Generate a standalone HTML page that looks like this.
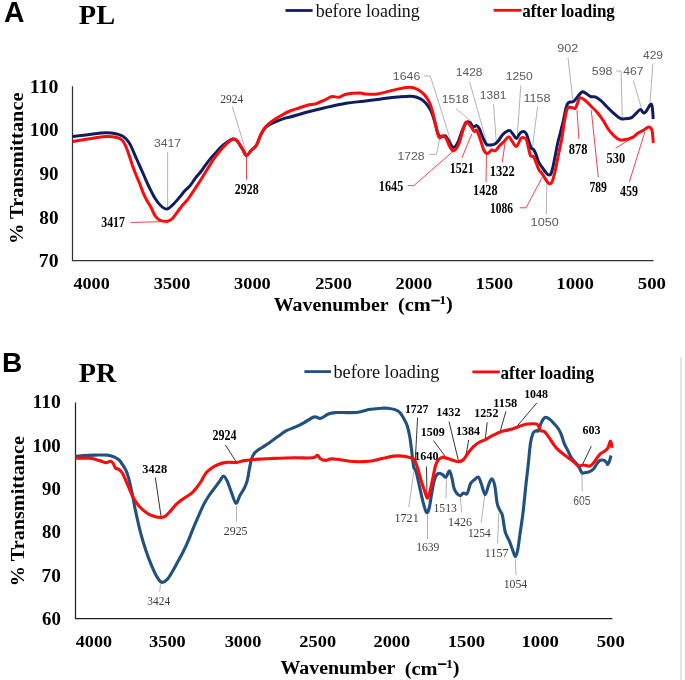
<!DOCTYPE html><html><head><meta charset="utf-8"><style>html,body{margin:0;padding:0;background:#fff;overflow:hidden;}svg{display:block;filter:blur(0.3px);}</style></head><body>
<svg width="685" height="680" viewBox="0 0 685 680">
<rect width="685" height="680" fill="#fff"/>
<text x="3.99" y="22.40" font-family='"Liberation Sans", sans-serif' font-weight="bold" font-size="29.80" fill="#000" textLength="20.45" lengthAdjust="spacingAndGlyphs">A</text>
<text x="78.81" y="23.70" font-family='"Liberation Serif", serif' font-weight="bold" font-size="28.10" fill="#000" textLength="36.28" lengthAdjust="spacingAndGlyphs">PL</text>
<polyline points="285.50,10.50 312.60,10.50" fill="none" stroke="#101c60" stroke-width="2.8"/>
<text x="315.70" y="16.60" font-family='"Liberation Serif", serif' font-weight="normal" font-size="18.00" fill="#111" textLength="104.14" lengthAdjust="spacingAndGlyphs">before loading</text>
<polyline points="493.60,10.30 521.60,10.30" fill="none" stroke="#f80c0c" stroke-width="2.8"/>
<text x="522.15" y="16.60" font-family='"Liberation Serif", serif' font-weight="bold" font-size="19.00" fill="#000" textLength="92.71" lengthAdjust="spacingAndGlyphs">after loading</text>
<polyline points="72.50,86.30 72.50,260.50 653.60,260.50" fill="none" stroke="#333" stroke-width="1.25"/>
<text x="29.87" y="92.87" font-family='"Liberation Serif", serif' font-weight="bold" font-size="17.93" fill="#000" textLength="28.66" lengthAdjust="spacingAndGlyphs">110</text>
<text x="29.87" y="136.42" font-family='"Liberation Serif", serif' font-weight="bold" font-size="17.93" fill="#000" textLength="28.66" lengthAdjust="spacingAndGlyphs">100</text>
<text x="39.48" y="179.97" font-family='"Liberation Serif", serif' font-weight="bold" font-size="17.93" fill="#000" textLength="19.05" lengthAdjust="spacingAndGlyphs">90</text>
<text x="39.36" y="223.52" font-family='"Liberation Serif", serif' font-weight="bold" font-size="17.93" fill="#000" textLength="19.17" lengthAdjust="spacingAndGlyphs">80</text>
<text x="38.88" y="267.07" font-family='"Liberation Serif", serif' font-weight="bold" font-size="17.93" fill="#000" textLength="19.67" lengthAdjust="spacingAndGlyphs">70</text>
<text x="73.50" y="288.63" font-family='"Liberation Serif", serif' font-weight="bold" font-size="17.49" fill="#000" textLength="36.24" lengthAdjust="spacingAndGlyphs">4000</text>
<text x="153.76" y="288.63" font-family='"Liberation Serif", serif' font-weight="bold" font-size="17.49" fill="#000" textLength="36.69" lengthAdjust="spacingAndGlyphs">3500</text>
<text x="234.06" y="288.63" font-family='"Liberation Serif", serif' font-weight="bold" font-size="17.49" fill="#000" textLength="36.69" lengthAdjust="spacingAndGlyphs">3000</text>
<text x="315.18" y="288.63" font-family='"Liberation Serif", serif' font-weight="bold" font-size="17.49" fill="#000" textLength="36.77" lengthAdjust="spacingAndGlyphs">2500</text>
<text x="395.48" y="288.63" font-family='"Liberation Serif", serif' font-weight="bold" font-size="17.49" fill="#000" textLength="36.77" lengthAdjust="spacingAndGlyphs">2000</text>
<text x="475.55" y="288.63" font-family='"Liberation Serif", serif' font-weight="bold" font-size="17.49" fill="#000" textLength="37.52" lengthAdjust="spacingAndGlyphs">1500</text>
<text x="556.35" y="288.63" font-family='"Liberation Serif", serif' font-weight="bold" font-size="17.49" fill="#000" textLength="37.52" lengthAdjust="spacingAndGlyphs">1000</text>
<text x="637.80" y="288.63" font-family='"Liberation Serif", serif' font-weight="bold" font-size="17.49" fill="#000" textLength="28.17" lengthAdjust="spacingAndGlyphs">500</text>
<text x="273.82" y="310.60" font-family='"Liberation Serif", serif' font-weight="bold" font-size="19.80" fill="#000" textLength="114.80" lengthAdjust="spacingAndGlyphs">Wavenumber</text>
<text x="398.00" y="311.00" font-family='"Liberation Serif", serif' font-weight="bold" font-size="19.80" fill="#000" textLength="32.85" lengthAdjust="spacingAndGlyphs">(cm</text>
<rect x="431.30" y="299.70" width="8.4" height="1.7" fill="#000"/>
<text x="439.39" y="304.40" font-family='"Liberation Serif", serif' font-weight="bold" font-size="13.18" fill="#000" textLength="6.93" lengthAdjust="spacingAndGlyphs">1</text>
<text x="446.05" y="310.49" font-family='"Liberation Serif", serif' font-weight="bold" font-size="18.86" fill="#000" textLength="6.74" lengthAdjust="spacingAndGlyphs">)</text>
<g transform="rotate(-90)"><text x="-244.07" y="23.10" font-family='"Liberation Serif", serif' font-weight="bold" font-size="19.80" fill="#000" textLength="151.59" lengthAdjust="spacingAndGlyphs">% Transmittance</text></g>
<polyline points="167.60,151.70 167.60,207.30" fill="none" stroke="#a0a0a0" stroke-width="0.8"/>
<polyline points="232.30,106.50 246.40,153.00" fill="none" stroke="#a0a0a0" stroke-width="0.8"/>
<polyline points="424.00,75.90 430.30,76.00 451.40,142.90" fill="none" stroke="#a0a0a0" stroke-width="0.8"/>
<polyline points="455.80,108.50 471.70,121.70" fill="none" stroke="#a0a0a0" stroke-width="0.8"/>
<polyline points="469.70,82.00 486.50,142.00" fill="none" stroke="#a0a0a0" stroke-width="0.8"/>
<polyline points="493.50,104.00 496.20,141.00" fill="none" stroke="#a0a0a0" stroke-width="0.8"/>
<polyline points="520.80,85.60 517.30,135.80" fill="none" stroke="#a0a0a0" stroke-width="0.8"/>
<polyline points="537.60,106.70 532.30,148.20" fill="none" stroke="#a0a0a0" stroke-width="0.8"/>
<polyline points="429.40,154.40 436.40,154.40 440.00,137.60" fill="none" stroke="#a0a0a0" stroke-width="0.8"/>
<polyline points="546.30,214.20 547.00,177.30" fill="none" stroke="#a0a0a0" stroke-width="0.8"/>
<polyline points="568.00,57.70 572.80,99.80" fill="none" stroke="#a0a0a0" stroke-width="0.8"/>
<polyline points="616.20,71.00 621.00,71.00 622.30,118.00" fill="none" stroke="#a0a0a0" stroke-width="0.8"/>
<polyline points="633.40,80.70 642.00,110.30" fill="none" stroke="#a0a0a0" stroke-width="0.8"/>
<polyline points="652.90,63.50 650.00,102.70" fill="none" stroke="#a0a0a0" stroke-width="0.8"/>
<polyline points="130.80,222.50 166.00,221.50" fill="none" stroke="#e8303c" stroke-width="0.9"/>
<polyline points="246.50,155.00 246.50,179.60" fill="none" stroke="#e8303c" stroke-width="0.9"/>
<polyline points="407.70,185.60 413.80,185.60 453.70,150.80" fill="none" stroke="#e8303c" stroke-width="0.9"/>
<polyline points="471.70,134.00 462.00,157.90" fill="none" stroke="#e8303c" stroke-width="0.9"/>
<polyline points="486.50,153.00 486.00,182.00" fill="none" stroke="#e8303c" stroke-width="0.9"/>
<polyline points="502.30,162.30 505.00,142.90" fill="none" stroke="#e8303c" stroke-width="0.9"/>
<polyline points="519.70,207.80 526.10,207.80 542.20,177.30" fill="none" stroke="#e8303c" stroke-width="0.9"/>
<polyline points="577.00,110.30 578.90,139.00" fill="none" stroke="#e8303c" stroke-width="0.9"/>
<polyline points="591.30,110.30 598.30,177.40" fill="none" stroke="#e8303c" stroke-width="0.9"/>
<polyline points="615.70,148.20 633.00,137.50" fill="none" stroke="#e8303c" stroke-width="0.9"/>
<polyline points="629.30,182.00 644.90,131.80" fill="none" stroke="#e8303c" stroke-width="0.9"/>
<path d="M72.70,136.50 C75.18,136.20 82.05,135.33 87.60,134.70 C93.15,134.07 101.03,132.80 106.00,132.70 C110.97,132.60 114.53,133.47 117.40,134.10 C120.27,134.73 121.43,135.32 123.20,136.50 C124.97,137.68 126.62,139.43 128.00,141.20 C129.38,142.97 130.33,144.75 131.50,147.10 C132.67,149.45 133.63,152.17 135.00,155.30 C136.37,158.43 138.13,162.37 139.70,165.90 C141.27,169.43 142.83,172.98 144.40,176.50 C145.97,180.02 147.33,183.37 149.10,187.00 C150.87,190.63 153.08,195.22 155.00,198.30 C156.92,201.38 158.63,203.70 160.60,205.50 C162.57,207.30 164.75,209.23 166.80,209.10 C168.85,208.97 170.70,206.77 172.90,204.70 C175.10,202.63 177.97,199.05 180.00,196.70 C182.03,194.35 183.38,192.48 185.10,190.60 C186.82,188.72 188.58,187.47 190.30,185.40 C192.02,183.33 193.68,180.43 195.40,178.20 C197.12,175.97 198.88,174.23 200.60,172.00 C202.32,169.77 203.98,167.12 205.70,164.80 C207.42,162.48 209.18,160.15 210.90,158.10 C212.62,156.05 214.28,154.38 216.00,152.50 C217.72,150.62 219.48,148.43 221.20,146.80 C222.92,145.17 224.40,143.98 226.30,142.70 C228.20,141.42 230.82,139.42 232.60,139.10 C234.38,138.78 235.38,139.18 237.00,140.80 C238.62,142.42 240.73,146.35 242.30,148.80 C243.87,151.25 244.93,155.22 246.40,155.50 C247.87,155.78 249.43,152.20 251.10,150.50 C252.77,148.80 254.78,147.93 256.40,145.30 C258.02,142.67 259.32,137.65 260.80,134.70 C262.28,131.75 263.38,129.52 265.30,127.60 C267.22,125.68 269.37,124.67 272.30,123.20 C275.23,121.73 279.95,119.83 282.90,118.80 C285.85,117.77 285.90,118.13 290.00,117.00 C294.10,115.87 301.67,113.55 307.50,112.00 C313.33,110.45 318.58,109.15 325.00,107.70 C331.42,106.25 339.57,104.38 346.00,103.30 C352.43,102.22 357.75,101.93 363.60,101.20 C369.45,100.47 375.43,99.60 381.10,98.90 C386.77,98.20 392.50,97.45 397.60,97.00 C402.70,96.55 407.87,95.90 411.70,96.20 C415.53,96.50 418.23,97.63 420.60,98.80 C422.97,99.97 424.15,101.15 425.90,103.20 C427.65,105.25 429.63,108.02 431.10,111.10 C432.57,114.18 433.52,117.87 434.70,121.70 C435.88,125.53 437.03,131.60 438.20,134.10 C439.37,136.60 440.52,136.42 441.70,136.70 C442.88,136.98 444.12,135.07 445.30,135.80 C446.48,136.53 447.48,139.18 448.80,141.10 C450.12,143.02 451.73,147.00 453.20,147.30 C454.67,147.60 455.98,145.98 457.60,142.90 C459.22,139.82 461.33,132.27 462.90,128.80 C464.47,125.33 465.72,123.05 467.00,122.10 C468.28,121.15 469.57,122.28 470.60,123.10 C471.63,123.92 472.17,126.58 473.20,127.00 C474.23,127.42 475.77,125.30 476.80,125.60 C477.83,125.90 478.38,126.80 479.40,128.80 C480.42,130.80 481.72,135.02 482.90,137.60 C484.08,140.18 485.17,143.07 486.50,144.30 C487.83,145.53 489.43,145.08 490.90,145.00 C492.37,144.92 493.98,144.60 495.30,143.80 C496.62,143.00 497.48,141.82 498.80,140.20 C500.12,138.58 501.43,135.72 503.20,134.10 C504.97,132.48 507.78,130.50 509.40,130.50 C511.02,130.50 511.73,132.77 512.90,134.10 C514.07,135.43 515.22,138.65 516.40,138.50 C517.58,138.35 518.82,134.35 520.00,133.20 C521.18,132.05 522.42,131.45 523.50,131.60 C524.58,131.75 525.62,132.50 526.50,134.10 C527.38,135.70 528.02,138.85 528.80,141.20 C529.58,143.55 530.42,146.83 531.20,148.20 C531.98,149.57 532.72,148.42 533.50,149.40 C534.28,150.38 535.02,151.93 535.90,154.10 C536.78,156.27 537.72,160.15 538.80,162.40 C539.88,164.65 541.32,166.03 542.40,167.60 C543.48,169.17 544.33,170.62 545.30,171.80 C546.27,172.98 547.28,174.32 548.20,174.70 C549.12,175.08 550.02,175.37 550.80,174.10 C551.58,172.83 552.15,170.23 552.90,167.10 C553.65,163.97 554.52,159.23 555.30,155.30 C556.08,151.37 556.72,147.42 557.60,143.50 C558.48,139.58 559.62,135.72 560.60,131.80 C561.58,127.88 562.60,123.97 563.50,120.00 C564.40,116.03 565.18,110.88 566.00,108.00 C566.82,105.12 567.20,103.75 568.40,102.70 C569.60,101.65 571.93,102.35 573.20,101.70 C574.47,101.05 574.57,100.40 576.00,98.80 C577.43,97.20 580.20,93.05 581.80,92.10 C583.40,91.15 584.17,92.37 585.60,93.10 C587.03,93.83 588.80,95.87 590.40,96.50 C592.00,97.13 593.45,96.20 595.20,96.90 C596.95,97.60 599.00,99.10 600.90,100.70 C602.80,102.30 604.68,104.58 606.60,106.50 C608.52,108.42 610.48,110.45 612.40,112.20 C614.32,113.95 616.52,115.88 618.10,117.00 C619.68,118.12 620.30,118.65 621.90,118.90 C623.50,119.15 626.02,118.75 627.70,118.50 C629.38,118.25 630.68,118.18 632.00,117.40 C633.32,116.62 634.20,115.10 635.60,113.80 C637.00,112.50 639.08,109.75 640.40,109.60 C641.72,109.45 642.53,112.63 643.50,112.90 C644.47,113.17 645.02,112.63 646.20,111.20 C647.38,109.77 649.58,104.92 650.60,104.30 C651.62,103.68 651.87,105.05 652.30,107.50 C652.73,109.95 653.05,117.08 653.20,119.00" fill="none" stroke="#101c60" stroke-width="3.0" stroke-linejoin="round" stroke-linecap="butt"/>
<path d="M72.70,141.40 C75.18,141.02 82.17,139.92 87.60,139.10 C93.03,138.28 100.58,136.80 105.30,136.50 C110.02,136.20 113.12,136.72 115.90,137.30 C118.68,137.88 120.38,138.57 122.00,140.00 C123.62,141.43 124.42,143.35 125.60,145.90 C126.78,148.45 127.93,151.97 129.10,155.30 C130.27,158.63 131.42,162.57 132.60,165.90 C133.78,169.23 135.02,172.37 136.20,175.30 C137.38,178.23 138.53,180.57 139.70,183.50 C140.87,186.43 142.05,190.15 143.20,192.90 C144.35,195.65 145.28,197.57 146.60,200.00 C147.92,202.43 149.65,204.82 151.10,207.50 C152.55,210.18 153.72,213.93 155.30,216.10 C156.88,218.27 158.68,219.62 160.60,220.50 C162.52,221.38 165.33,221.40 166.80,221.40 C168.27,221.40 168.38,221.08 169.40,220.50 C170.42,219.92 171.13,219.90 172.90,217.90 C174.67,215.90 178.30,210.73 180.00,208.50 C181.70,206.27 181.73,206.12 183.10,204.50 C184.47,202.88 186.48,201.03 188.20,198.80 C189.92,196.57 191.68,193.67 193.40,191.10 C195.12,188.53 196.78,186.07 198.50,183.40 C200.22,180.73 201.98,177.85 203.70,175.10 C205.42,172.35 207.08,169.63 208.80,166.90 C210.52,164.17 212.28,161.18 214.00,158.70 C215.72,156.22 217.40,154.07 219.10,152.00 C220.80,149.93 222.48,148.10 224.20,146.30 C225.92,144.50 227.85,142.40 229.40,141.20 C230.95,140.00 232.23,139.17 233.50,139.10 C234.77,139.03 235.53,139.18 237.00,140.80 C238.47,142.42 240.73,146.35 242.30,148.80 C243.87,151.25 244.93,155.22 246.40,155.50 C247.87,155.78 249.43,152.20 251.10,150.50 C252.77,148.80 254.78,147.93 256.40,145.30 C258.02,142.67 259.32,137.72 260.80,134.70 C262.28,131.68 263.38,129.48 265.30,127.20 C267.22,124.92 269.37,123.12 272.30,121.00 C275.23,118.88 279.95,116.17 282.90,114.50 C285.85,112.83 287.32,112.08 290.00,111.00 C292.68,109.92 296.08,108.97 299.00,108.00 C301.92,107.03 304.62,105.93 307.50,105.20 C310.38,104.47 313.38,104.50 316.30,103.60 C319.22,102.70 322.38,100.97 325.00,99.80 C327.62,98.63 329.67,97.03 332.00,96.60 C334.33,96.17 336.67,97.60 339.00,97.20 C341.33,96.80 342.50,94.88 346.00,94.20 C349.50,93.52 356.78,93.13 360.00,93.10 C363.22,93.07 362.37,93.85 365.30,94.00 C368.23,94.15 373.80,94.43 377.60,94.00 C381.40,93.57 384.60,92.25 388.10,91.40 C391.60,90.55 394.95,89.58 398.60,88.90 C402.25,88.22 406.93,87.27 410.00,87.30 C413.07,87.33 414.65,87.92 417.00,89.10 C419.35,90.28 422.03,92.20 424.10,94.40 C426.17,96.60 427.93,99.22 429.40,102.30 C430.87,105.38 431.73,108.48 432.90,112.90 C434.07,117.32 435.37,124.68 436.40,128.80 C437.43,132.92 438.07,136.43 439.10,137.60 C440.13,138.77 441.43,135.65 442.60,135.80 C443.77,135.95 444.92,136.73 446.10,138.50 C447.28,140.27 448.43,144.35 449.70,146.40 C450.97,148.45 452.23,151.08 453.70,150.80 C455.17,150.52 456.97,148.08 458.50,144.70 C460.03,141.32 461.65,134.28 462.90,130.50 C464.15,126.72 464.72,122.73 466.00,122.00 C467.28,121.27 469.25,124.53 470.60,126.10 C471.95,127.67 473.07,130.67 474.10,131.40 C475.13,132.13 475.77,129.17 476.80,130.50 C477.83,131.83 479.13,136.15 480.30,139.40 C481.47,142.65 482.63,147.65 483.80,150.00 C484.97,152.35 485.98,153.50 487.30,153.50 C488.62,153.50 490.37,150.45 491.70,150.00 C493.03,149.55 493.97,151.55 495.30,150.80 C496.63,150.05 498.23,147.05 499.70,145.50 C501.17,143.95 502.63,142.97 504.10,141.50 C505.57,140.03 507.18,136.77 508.50,136.70 C509.82,136.63 510.68,139.48 512.00,141.10 C513.32,142.72 514.93,146.83 516.40,146.40 C517.87,145.97 519.62,139.97 520.80,138.50 C521.98,137.03 522.55,137.35 523.50,137.60 C524.45,137.85 525.62,138.03 526.50,140.00 C527.38,141.97 528.12,146.75 528.80,149.40 C529.48,152.05 529.82,154.72 530.60,155.90 C531.38,157.08 532.62,155.42 533.50,156.50 C534.38,157.58 535.02,160.25 535.90,162.40 C536.78,164.55 537.72,167.45 538.80,169.40 C539.88,171.35 541.32,172.53 542.40,174.10 C543.48,175.67 544.23,177.23 545.30,178.80 C546.37,180.37 547.72,182.90 548.80,183.50 C549.88,184.10 550.92,183.77 551.80,182.40 C552.68,181.03 553.32,178.25 554.10,175.30 C554.88,172.35 555.72,168.43 556.50,164.70 C557.28,160.97 557.92,157.22 558.80,152.90 C559.68,148.58 560.85,144.12 561.80,138.80 C562.75,133.48 563.57,126.07 564.50,121.00 C565.43,115.93 566.27,110.67 567.40,108.40 C568.53,106.13 570.02,107.40 571.30,107.40 C572.58,107.40 574.15,108.87 575.10,108.40 C576.05,107.93 576.20,106.35 577.00,104.60 C577.80,102.85 578.47,98.55 579.90,97.90 C581.33,97.25 583.70,99.27 585.60,100.70 C587.50,102.13 589.38,104.58 591.30,106.50 C593.22,108.42 595.18,109.97 597.10,112.20 C599.02,114.43 600.90,117.03 602.80,119.90 C604.70,122.77 606.58,126.70 608.50,129.40 C610.42,132.10 612.38,134.35 614.30,136.10 C616.22,137.85 618.10,139.33 620.00,139.90 C621.90,140.47 624.03,139.75 625.70,139.50 C627.37,139.25 628.65,138.85 630.00,138.40 C631.35,137.95 632.57,137.63 633.80,136.80 C635.03,135.97 635.92,134.43 637.40,133.40 C638.88,132.37 640.93,131.63 642.70,130.60 C644.47,129.57 646.62,127.60 648.00,127.20 C649.38,126.80 650.27,127.33 651.00,128.20 C651.73,129.07 652.02,129.93 652.40,132.40 C652.78,134.87 653.15,141.23 653.30,143.00" fill="none" stroke="#f80c0c" stroke-width="3.0" stroke-linejoin="round" stroke-linecap="butt"/>
<text x="153.94" y="146.59" font-family='"Liberation Sans", sans-serif' font-weight="normal" font-size="11.02" fill="#5a5a5a" textLength="26.97" lengthAdjust="spacingAndGlyphs">3417</text>
<text x="392.86" y="79.69" font-family='"Liberation Sans", sans-serif' font-weight="normal" font-size="11.02" fill="#5a5a5a" textLength="27.38" lengthAdjust="spacingAndGlyphs">1646</text>
<text x="441.67" y="103.49" font-family='"Liberation Sans", sans-serif' font-weight="normal" font-size="11.02" fill="#5a5a5a" textLength="27.05" lengthAdjust="spacingAndGlyphs">1518</text>
<text x="455.78" y="76.09" font-family='"Liberation Sans", sans-serif' font-weight="normal" font-size="11.02" fill="#5a5a5a" textLength="26.74" lengthAdjust="spacingAndGlyphs">1428</text>
<text x="479.89" y="99.09" font-family='"Liberation Sans", sans-serif' font-weight="normal" font-size="11.02" fill="#5a5a5a" textLength="26.59" lengthAdjust="spacingAndGlyphs">1381</text>
<text x="505.78" y="80.19" font-family='"Liberation Sans", sans-serif' font-weight="normal" font-size="11.02" fill="#5a5a5a" textLength="27.00" lengthAdjust="spacingAndGlyphs">1250</text>
<text x="523.47" y="101.69" font-family='"Liberation Sans", sans-serif' font-weight="normal" font-size="11.02" fill="#5a5a5a" textLength="27.05" lengthAdjust="spacingAndGlyphs">1158</text>
<text x="397.57" y="159.89" font-family='"Liberation Sans", sans-serif' font-weight="normal" font-size="11.02" fill="#5a5a5a" textLength="27.05" lengthAdjust="spacingAndGlyphs">1728</text>
<text x="530.64" y="226.09" font-family='"Liberation Sans", sans-serif' font-weight="normal" font-size="11.02" fill="#5a5a5a" textLength="28.05" lengthAdjust="spacingAndGlyphs">1050</text>
<text x="557.31" y="51.99" font-family='"Liberation Sans", sans-serif' font-weight="normal" font-size="11.02" fill="#5a5a5a" textLength="20.92" lengthAdjust="spacingAndGlyphs">902</text>
<text x="591.80" y="74.89" font-family='"Liberation Sans", sans-serif' font-weight="normal" font-size="11.02" fill="#5a5a5a" textLength="20.74" lengthAdjust="spacingAndGlyphs">598</text>
<text x="623.22" y="74.89" font-family='"Liberation Sans", sans-serif' font-weight="normal" font-size="11.02" fill="#5a5a5a" textLength="20.40" lengthAdjust="spacingAndGlyphs">467</text>
<text x="643.02" y="58.69" font-family='"Liberation Sans", sans-serif' font-weight="normal" font-size="11.02" fill="#5a5a5a" textLength="20.04" lengthAdjust="spacingAndGlyphs">429</text>
<text x="220.29" y="102.78" font-family='"Liberation Serif", serif' font-weight="normal" font-size="12.50" fill="#3c3c3c" textLength="23.09" lengthAdjust="spacingAndGlyphs">2924</text>
<text x="101.25" y="227.46" font-family='"Liberation Serif", serif' font-weight="bold" font-size="13.99" fill="#000" textLength="23.74" lengthAdjust="spacingAndGlyphs">3417</text>
<text x="234.80" y="193.96" font-family='"Liberation Serif", serif' font-weight="bold" font-size="13.93" fill="#000" textLength="23.79" lengthAdjust="spacingAndGlyphs">2928</text>
<text x="378.82" y="190.76" font-family='"Liberation Serif", serif' font-weight="bold" font-size="13.99" fill="#000" textLength="24.43" lengthAdjust="spacingAndGlyphs">1645</text>
<text x="449.64" y="173.16" font-family='"Liberation Serif", serif' font-weight="bold" font-size="13.99" fill="#000" textLength="24.09" lengthAdjust="spacingAndGlyphs">1521</text>
<text x="473.12" y="194.66" font-family='"Liberation Serif", serif' font-weight="bold" font-size="13.93" fill="#000" textLength="24.49" lengthAdjust="spacingAndGlyphs">1428</text>
<text x="489.80" y="176.36" font-family='"Liberation Serif", serif' font-weight="bold" font-size="13.99" fill="#000" textLength="24.93" lengthAdjust="spacingAndGlyphs">1322</text>
<text x="489.88" y="213.36" font-family='"Liberation Serif", serif' font-weight="bold" font-size="13.93" fill="#000" textLength="23.06" lengthAdjust="spacingAndGlyphs">1086</text>
<text x="568.69" y="153.86" font-family='"Liberation Serif", serif' font-weight="bold" font-size="13.93" fill="#000" textLength="18.73" lengthAdjust="spacingAndGlyphs">878</text>
<text x="589.43" y="192.06" font-family='"Liberation Serif", serif' font-weight="bold" font-size="13.93" fill="#000" textLength="17.49" lengthAdjust="spacingAndGlyphs">789</text>
<text x="606.60" y="163.36" font-family='"Liberation Serif", serif' font-weight="bold" font-size="13.93" fill="#000" textLength="18.67" lengthAdjust="spacingAndGlyphs">530</text>
<text x="620.04" y="195.66" font-family='"Liberation Serif", serif' font-weight="bold" font-size="13.99" fill="#000" textLength="18.00" lengthAdjust="spacingAndGlyphs">459</text>
<text x="1.92" y="371.90" font-family='"Liberation Sans", sans-serif' font-weight="bold" font-size="28.49" fill="#000" textLength="20.25" lengthAdjust="spacingAndGlyphs">B</text>
<text x="78.82" y="381.80" font-family='"Liberation Serif", serif' font-weight="bold" font-size="27.64" fill="#000" textLength="37.63" lengthAdjust="spacingAndGlyphs">PR</text>
<polyline points="304.40,371.60 331.00,371.60" fill="none" stroke="#22507f" stroke-width="2.8"/>
<text x="333.50" y="377.80" font-family='"Liberation Serif", serif' font-weight="normal" font-size="18.00" fill="#111" textLength="105.75" lengthAdjust="spacingAndGlyphs">before loading</text>
<polyline points="472.40,371.90 499.80,371.90" fill="none" stroke="#f80c0c" stroke-width="2.8"/>
<text x="500.45" y="378.60" font-family='"Liberation Serif", serif' font-weight="bold" font-size="19.00" fill="#000" textLength="93.72" lengthAdjust="spacingAndGlyphs">after loading</text>
<polyline points="75.50,402.40 75.50,618.50 612.40,618.50" fill="none" stroke="#222" stroke-width="1.25"/>
<text x="32.49" y="408.43" font-family='"Liberation Serif", serif' font-weight="bold" font-size="17.78" fill="#000" textLength="28.33" lengthAdjust="spacingAndGlyphs">110</text>
<text x="32.49" y="451.71" font-family='"Liberation Serif", serif' font-weight="bold" font-size="17.78" fill="#000" textLength="28.33" lengthAdjust="spacingAndGlyphs">100</text>
<text x="42.09" y="494.99" font-family='"Liberation Serif", serif' font-weight="bold" font-size="17.78" fill="#000" textLength="18.73" lengthAdjust="spacingAndGlyphs">90</text>
<text x="41.97" y="538.27" font-family='"Liberation Serif", serif' font-weight="bold" font-size="17.78" fill="#000" textLength="18.84" lengthAdjust="spacingAndGlyphs">80</text>
<text x="41.50" y="581.55" font-family='"Liberation Serif", serif' font-weight="bold" font-size="17.78" fill="#000" textLength="19.34" lengthAdjust="spacingAndGlyphs">70</text>
<text x="41.96" y="624.83" font-family='"Liberation Serif", serif' font-weight="bold" font-size="17.78" fill="#000" textLength="18.86" lengthAdjust="spacingAndGlyphs">60</text>
<text x="75.80" y="646.63" font-family='"Liberation Serif", serif' font-weight="bold" font-size="17.34" fill="#000" textLength="36.24" lengthAdjust="spacingAndGlyphs">4000</text>
<text x="149.06" y="646.63" font-family='"Liberation Serif", serif' font-weight="bold" font-size="17.34" fill="#000" textLength="36.69" lengthAdjust="spacingAndGlyphs">3500</text>
<text x="224.66" y="646.63" font-family='"Liberation Serif", serif' font-weight="bold" font-size="17.34" fill="#000" textLength="36.69" lengthAdjust="spacingAndGlyphs">3000</text>
<text x="299.38" y="646.63" font-family='"Liberation Serif", serif' font-weight="bold" font-size="17.34" fill="#000" textLength="36.77" lengthAdjust="spacingAndGlyphs">2500</text>
<text x="373.48" y="646.63" font-family='"Liberation Serif", serif' font-weight="bold" font-size="17.34" fill="#000" textLength="36.77" lengthAdjust="spacingAndGlyphs">2000</text>
<text x="447.65" y="646.63" font-family='"Liberation Serif", serif' font-weight="bold" font-size="17.34" fill="#000" textLength="37.52" lengthAdjust="spacingAndGlyphs">1500</text>
<text x="521.45" y="646.63" font-family='"Liberation Serif", serif' font-weight="bold" font-size="17.34" fill="#000" textLength="37.52" lengthAdjust="spacingAndGlyphs">1000</text>
<text x="596.70" y="646.63" font-family='"Liberation Serif", serif' font-weight="bold" font-size="17.34" fill="#000" textLength="28.17" lengthAdjust="spacingAndGlyphs">500</text>
<text x="280.52" y="674.20" font-family='"Liberation Serif", serif' font-weight="bold" font-size="19.80" fill="#000" textLength="114.80" lengthAdjust="spacingAndGlyphs">Wavenumber</text>
<text x="404.70" y="674.60" font-family='"Liberation Serif", serif' font-weight="bold" font-size="19.80" fill="#000" textLength="32.85" lengthAdjust="spacingAndGlyphs">(cm</text>
<rect x="438.00" y="663.30" width="8.4" height="1.7" fill="#000"/>
<text x="446.09" y="668.00" font-family='"Liberation Serif", serif' font-weight="bold" font-size="13.18" fill="#000" textLength="6.93" lengthAdjust="spacingAndGlyphs">1</text>
<text x="452.75" y="674.09" font-family='"Liberation Serif", serif' font-weight="bold" font-size="18.86" fill="#000" textLength="6.74" lengthAdjust="spacingAndGlyphs">)</text>
<g transform="rotate(-90)"><text x="-586.15" y="23.50" font-family='"Liberation Serif", serif' font-weight="bold" font-size="19.30" fill="#000" textLength="150.16" lengthAdjust="spacingAndGlyphs">% Transmittance</text></g>
<polyline points="681.10,357.00 681.10,680.00" fill="none" stroke="#e4e4e4" stroke-width="2"/>
<polyline points="155.30,477.50 161.00,516.00" fill="none" stroke="#000" stroke-width="0.8"/>
<polyline points="225.40,445.00 236.80,462.80" fill="none" stroke="#000" stroke-width="0.8"/>
<polyline points="417.60,417.60 415.30,459.40" fill="none" stroke="#000" stroke-width="0.8"/>
<polyline points="433.50,440.60 445.30,456.50" fill="none" stroke="#000" stroke-width="0.8"/>
<polyline points="426.50,466.50 427.00,497.00" fill="none" stroke="#000" stroke-width="0.8"/>
<polyline points="449.00,421.60 458.50,461.00" fill="none" stroke="#000" stroke-width="0.8"/>
<polyline points="468.70,439.90 465.80,455.90" fill="none" stroke="#000" stroke-width="0.8"/>
<polyline points="487.20,422.30 485.20,439.90" fill="none" stroke="#000" stroke-width="0.8"/>
<polyline points="505.90,411.40 500.10,431.80" fill="none" stroke="#000" stroke-width="0.8"/>
<polyline points="536.90,402.80 516.10,427.40" fill="none" stroke="#000" stroke-width="0.8"/>
<polyline points="591.30,446.20 582.50,464.60" fill="none" stroke="#000" stroke-width="0.8"/>
<polyline points="160.60,584.30 159.60,591.50" fill="none" stroke="#a0a0a0" stroke-width="0.8"/>
<polyline points="236.50,506.00 236.50,521.60" fill="none" stroke="#a0a0a0" stroke-width="0.8"/>
<polyline points="408.80,507.00 414.10,470.00" fill="none" stroke="#a0a0a0" stroke-width="0.8"/>
<polyline points="427.50,514.20 427.50,539.00" fill="none" stroke="#a0a0a0" stroke-width="0.8"/>
<polyline points="445.90,498.30 446.50,478.00" fill="none" stroke="#a0a0a0" stroke-width="0.8"/>
<polyline points="461.80,512.40 460.10,496.50" fill="none" stroke="#a0a0a0" stroke-width="0.8"/>
<polyline points="481.20,522.40 484.70,496.00" fill="none" stroke="#a0a0a0" stroke-width="0.8"/>
<polyline points="497.60,543.50 498.80,513.00" fill="none" stroke="#a0a0a0" stroke-width="0.8"/>
<polyline points="515.30,558.80 516.00,575.30" fill="none" stroke="#a0a0a0" stroke-width="0.8"/>
<polyline points="581.90,474.10 582.30,491.30" fill="none" stroke="#a0a0a0" stroke-width="0.8"/>
<path d="M75.50,456.50 C76.88,456.33 80.47,455.73 83.80,455.50 C87.13,455.27 91.58,455.17 95.50,455.10 C99.42,455.03 104.15,454.77 107.30,455.10 C110.45,455.43 112.43,456.28 114.40,457.10 C116.37,457.92 117.73,458.73 119.10,460.00 C120.47,461.27 121.43,462.93 122.60,464.70 C123.77,466.47 125.12,468.45 126.10,470.60 C127.08,472.75 127.72,474.85 128.50,477.60 C129.28,480.35 130.02,483.57 130.80,487.10 C131.58,490.63 132.42,494.88 133.20,498.80 C133.98,502.72 134.27,504.92 135.50,510.60 C136.73,516.28 138.87,526.25 140.60,532.90 C142.33,539.55 144.13,545.20 145.90,550.50 C147.67,555.80 149.43,560.43 151.20,564.70 C152.97,568.97 154.75,573.17 156.50,576.10 C158.25,579.03 159.95,581.72 161.70,582.30 C163.45,582.88 165.23,581.37 167.00,579.60 C168.77,577.83 170.53,574.63 172.30,571.70 C174.07,568.77 175.83,565.23 177.60,562.00 C179.37,558.77 181.13,555.83 182.90,552.30 C184.67,548.77 186.43,544.92 188.20,540.80 C189.97,536.68 191.73,531.85 193.50,527.60 C195.27,523.35 197.03,519.27 198.80,515.30 C200.57,511.33 202.33,507.18 204.10,503.80 C205.87,500.42 207.63,497.65 209.40,495.00 C211.17,492.35 212.95,490.25 214.70,487.90 C216.45,485.55 218.43,482.88 219.90,480.90 C221.37,478.92 222.28,475.95 223.50,476.00 C224.72,476.05 225.85,478.38 227.20,481.20 C228.55,484.02 230.13,489.23 231.60,492.90 C233.07,496.57 234.65,502.70 236.00,503.20 C237.35,503.70 238.35,498.35 239.70,495.90 C241.05,493.45 242.87,490.95 244.10,488.50 C245.33,486.05 246.23,484.38 247.10,481.20 C247.97,478.02 248.57,473.08 249.30,469.40 C250.03,465.72 250.65,461.80 251.50,459.10 C252.35,456.40 253.18,454.78 254.40,453.20 C255.62,451.62 257.08,450.82 258.80,449.60 C260.52,448.38 262.48,447.38 264.70,445.90 C266.92,444.42 269.97,442.22 272.10,440.70 C274.23,439.18 275.13,438.47 277.50,436.80 C279.87,435.13 283.38,432.30 286.30,430.70 C289.22,429.10 292.08,428.52 295.00,427.20 C297.92,425.88 300.87,424.42 303.80,422.80 C306.73,421.18 310.55,418.47 312.60,417.50 C314.65,416.53 314.93,416.85 316.10,417.00 C317.27,417.15 318.43,418.37 319.60,418.40 C320.77,418.43 321.65,417.93 323.10,417.20 C324.55,416.47 326.27,414.77 328.30,414.00 C330.33,413.23 332.08,412.83 335.30,412.60 C338.52,412.37 343.80,412.65 347.60,412.60 C351.40,412.55 354.60,412.80 358.10,412.30 C361.60,411.80 365.63,410.18 368.60,409.60 C371.57,409.02 373.70,409.03 375.90,408.80 C378.10,408.57 379.85,408.30 381.80,408.20 C383.75,408.10 385.40,407.97 387.60,408.20 C389.80,408.43 392.98,408.90 395.00,409.60 C397.02,410.30 398.33,411.07 399.70,412.40 C401.07,413.73 402.02,415.55 403.20,417.60 C404.38,419.65 405.92,422.53 406.80,424.70 C407.68,426.87 407.95,428.25 408.50,430.60 C409.05,432.95 409.60,435.67 410.10,438.80 C410.60,441.93 411.08,446.07 411.50,449.40 C411.92,452.73 412.22,455.78 412.60,458.80 C412.98,461.82 413.25,465.47 413.80,467.50 C414.35,469.53 414.97,467.93 415.90,471.00 C416.83,474.07 418.22,480.77 419.40,485.90 C420.58,491.03 421.82,497.38 423.00,501.80 C424.18,506.22 425.47,511.37 426.50,512.40 C427.53,513.43 428.32,511.23 429.20,508.00 C430.08,504.77 430.92,497.70 431.80,493.00 C432.68,488.30 433.47,483.03 434.50,479.80 C435.53,476.57 436.68,474.48 438.00,473.60 C439.32,472.72 441.08,473.92 442.40,474.50 C443.72,475.08 444.72,477.70 445.90,477.10 C447.08,476.50 448.47,470.60 449.50,470.90 C450.53,471.20 451.37,476.10 452.10,478.90 C452.83,481.70 453.17,485.35 453.90,487.70 C454.63,490.05 455.47,491.67 456.50,493.00 C457.53,494.33 458.92,495.70 460.10,495.70 C461.28,495.70 462.43,493.35 463.60,493.00 C464.77,492.65 465.93,495.18 467.10,493.60 C468.27,492.02 469.43,485.77 470.60,483.50 C471.77,481.23 472.80,481.05 474.10,480.00 C475.40,478.95 477.22,476.62 478.40,477.20 C479.58,477.78 480.07,480.60 481.20,483.50 C482.33,486.40 483.95,494.40 485.20,494.60 C486.45,494.80 487.60,487.33 488.70,484.70 C489.80,482.07 490.78,478.60 491.80,478.80 C492.82,479.00 493.90,481.78 494.80,485.90 C495.70,490.02 496.33,499.38 497.20,503.50 C498.07,507.62 499.13,508.63 500.00,510.60 C500.87,512.57 501.53,511.77 502.40,515.30 C503.27,518.83 504.03,527.48 505.20,531.80 C506.37,536.12 508.12,538.07 509.40,541.20 C510.68,544.33 511.92,548.05 512.90,550.60 C513.88,553.15 514.52,556.50 515.30,556.50 C516.08,556.50 516.82,554.33 517.60,550.60 C518.38,546.87 519.08,540.53 520.00,534.10 C520.92,527.67 522.12,520.18 523.10,512.00 C524.08,503.82 525.02,493.17 525.90,485.00 C526.78,476.83 527.63,470.00 528.40,463.00 C529.17,456.00 529.70,448.02 530.50,443.00 C531.30,437.98 532.25,434.95 533.20,432.90 C534.15,430.85 535.33,431.07 536.20,430.70 C537.07,430.33 537.55,432.05 538.40,430.70 C539.25,429.35 540.20,424.80 541.30,422.60 C542.40,420.40 543.65,418.10 545.00,417.50 C546.35,416.90 547.93,418.02 549.40,419.00 C550.87,419.98 552.33,421.82 553.80,423.40 C555.27,424.98 556.97,426.67 558.20,428.50 C559.43,430.33 560.22,431.95 561.20,434.40 C562.18,436.85 563.12,440.75 564.10,443.20 C565.08,445.65 566.00,446.88 567.10,449.10 C568.20,451.32 569.48,454.42 570.70,456.50 C571.92,458.58 573.17,460.13 574.40,461.60 C575.63,463.07 576.87,463.47 578.10,465.30 C579.33,467.13 580.58,471.38 581.80,472.60 C583.02,473.82 584.18,472.72 585.40,472.60 C586.62,472.48 587.75,472.50 589.10,471.90 C590.45,471.30 592.12,470.47 593.50,469.00 C594.88,467.53 596.27,464.55 597.40,463.10 C598.53,461.65 599.20,460.77 600.30,460.30 C601.40,459.83 602.97,459.93 604.00,460.30 C605.03,460.67 605.87,461.82 606.50,462.50 C607.13,463.18 607.30,464.65 607.80,464.40 C608.30,464.15 608.97,462.48 609.50,461.00 C610.03,459.52 610.75,456.42 611.00,455.50" fill="none" stroke="#22507f" stroke-width="3.1" stroke-linejoin="round" stroke-linecap="butt"/>
<path d="M75.50,458.20 C77.85,458.20 86.27,458.00 89.60,458.20 C92.93,458.40 93.53,458.90 95.50,459.40 C97.47,459.90 99.63,460.67 101.40,461.20 C103.17,461.73 104.53,462.60 106.10,462.60 C107.67,462.60 109.62,461.05 110.80,461.20 C111.98,461.35 112.42,462.33 113.20,463.50 C113.98,464.67 114.52,467.22 115.50,468.20 C116.48,469.18 117.92,468.52 119.10,469.40 C120.28,470.28 121.43,471.53 122.60,473.50 C123.77,475.47 124.93,478.55 126.10,481.20 C127.27,483.85 128.42,486.67 129.60,489.40 C130.78,492.13 131.82,495.05 133.20,497.60 C134.58,500.15 136.13,502.53 137.90,504.70 C139.67,506.87 141.85,508.93 143.80,510.60 C145.75,512.27 147.48,513.63 149.60,514.70 C151.72,515.77 154.62,516.55 156.50,517.00 C158.38,517.45 159.43,517.53 160.90,517.40 C162.37,517.27 163.68,517.28 165.30,516.20 C166.92,515.12 168.83,512.82 170.60,510.90 C172.37,508.98 174.15,506.47 175.90,504.70 C177.65,502.93 179.35,501.62 181.10,500.30 C182.85,498.98 184.63,497.98 186.40,496.80 C188.17,495.62 189.93,494.82 191.70,493.20 C193.47,491.58 195.45,489.05 197.00,487.10 C198.55,485.15 199.52,483.83 201.00,481.50 C202.48,479.17 204.10,475.37 205.90,473.10 C207.70,470.83 209.85,469.30 211.80,467.90 C213.75,466.50 215.15,465.62 217.60,464.70 C220.05,463.78 223.30,462.78 226.50,462.40 C229.70,462.02 233.87,462.70 236.80,462.40 C239.73,462.10 240.43,461.15 244.10,460.60 C247.77,460.05 253.90,459.47 258.80,459.10 C263.70,458.73 267.47,458.62 273.50,458.40 C279.53,458.18 288.48,457.90 295.00,457.80 C301.52,457.70 308.85,458.23 312.60,457.80 C316.35,457.37 316.20,455.05 317.50,455.20 C318.80,455.35 319.03,457.83 320.40,458.70 C321.77,459.57 324.10,460.35 325.70,460.40 C327.30,460.45 328.10,459.20 330.00,459.00 C331.90,458.80 334.17,458.87 337.10,459.20 C340.03,459.53 344.10,460.57 347.60,461.00 C351.10,461.43 354.60,461.75 358.10,461.80 C361.60,461.85 365.63,461.60 368.60,461.30 C371.57,461.00 373.70,460.47 375.90,460.00 C378.10,459.53 379.85,458.95 381.80,458.50 C383.75,458.05 385.65,457.70 387.60,457.30 C389.55,456.90 391.53,456.33 393.50,456.10 C395.47,455.87 397.43,455.83 399.40,455.90 C401.37,455.97 403.53,456.22 405.30,456.50 C407.07,456.78 408.53,457.12 410.00,457.60 C411.47,458.08 412.82,457.62 414.10,459.40 C415.38,461.18 416.52,464.77 417.70,468.30 C418.88,471.83 420.03,476.78 421.20,480.60 C422.37,484.42 423.67,488.25 424.70,491.20 C425.73,494.15 426.52,498.30 427.40,498.30 C428.28,498.30 429.12,494.43 430.00,491.20 C430.88,487.97 431.82,483.02 432.70,478.90 C433.58,474.78 434.42,469.60 435.30,466.50 C436.18,463.40 436.82,461.85 438.00,460.30 C439.18,458.75 440.78,457.48 442.40,457.20 C444.02,456.92 445.93,458.08 447.70,458.60 C449.47,459.12 451.23,459.77 453.00,460.30 C454.77,460.83 456.53,461.93 458.30,461.80 C460.07,461.67 461.98,460.97 463.60,459.50 C465.22,458.03 466.30,455.18 468.00,453.00 C469.70,450.82 471.87,448.23 473.80,446.40 C475.73,444.57 477.65,443.13 479.60,442.00 C481.55,440.87 483.55,440.57 485.50,439.60 C487.45,438.63 489.35,437.25 491.30,436.20 C493.25,435.15 495.25,434.15 497.20,433.30 C499.15,432.45 500.82,431.72 503.00,431.10 C505.18,430.48 507.87,430.28 510.30,429.60 C512.73,428.92 515.17,427.85 517.60,427.00 C520.03,426.15 522.53,425.03 524.90,424.50 C527.27,423.97 529.80,423.87 531.80,423.80 C533.80,423.73 535.68,423.55 536.90,424.10 C538.12,424.65 538.48,426.00 539.10,427.10 C539.72,428.20 539.73,429.97 540.60,430.70 C541.47,431.43 543.08,430.63 544.30,431.50 C545.52,432.37 546.55,434.07 547.90,435.90 C549.25,437.73 550.92,440.42 552.40,442.50 C553.88,444.58 555.10,446.57 556.80,448.40 C558.50,450.23 560.65,451.92 562.60,453.50 C564.55,455.08 566.53,456.42 568.50,457.90 C570.47,459.38 572.80,461.05 574.40,462.40 C576.00,463.75 576.63,465.57 578.10,466.00 C579.57,466.43 581.22,465.00 583.20,465.00 C585.18,465.00 588.13,466.53 590.00,466.00 C591.87,465.47 593.17,463.23 594.40,461.80 C595.63,460.37 596.42,458.73 597.40,457.40 C598.38,456.07 599.20,454.78 600.30,453.80 C601.40,452.82 602.78,452.40 604.00,451.50 C605.22,450.60 606.68,449.73 607.60,448.40 C608.52,447.07 609.00,444.70 609.50,443.50 C610.00,442.30 610.23,441.00 610.60,441.20 C610.97,441.40 611.47,443.60 611.70,444.70 C611.93,445.80 611.95,447.28 612.00,447.80" fill="none" stroke="#f80c0c" stroke-width="3.1" stroke-linejoin="round" stroke-linecap="butt"/>
<text x="142.33" y="472.67" font-family='"Liberation Serif", serif' font-weight="bold" font-size="13.04" fill="#000" textLength="24.78" lengthAdjust="spacingAndGlyphs">3428</text>
<text x="212.50" y="439.97" font-family='"Liberation Serif", serif' font-weight="bold" font-size="13.69" fill="#000" textLength="24.03" lengthAdjust="spacingAndGlyphs">2924</text>
<text x="404.96" y="412.90" font-family='"Liberation Serif", serif' font-weight="bold" font-size="13.29" fill="#000" textLength="23.53" lengthAdjust="spacingAndGlyphs">1727</text>
<text x="420.84" y="435.98" font-family='"Liberation Serif", serif' font-weight="bold" font-size="12.60" fill="#000" textLength="23.99" lengthAdjust="spacingAndGlyphs">1509</text>
<text x="414.33" y="460.47" font-family='"Liberation Serif", serif' font-weight="bold" font-size="13.04" fill="#000" textLength="24.13" lengthAdjust="spacingAndGlyphs">1640</text>
<text x="436.34" y="415.68" font-family='"Liberation Serif", serif' font-weight="bold" font-size="12.06" fill="#000" textLength="24.08" lengthAdjust="spacingAndGlyphs">1432</text>
<text x="456.04" y="434.57" font-family='"Liberation Serif", serif' font-weight="bold" font-size="12.89" fill="#000" textLength="24.09" lengthAdjust="spacingAndGlyphs">1384</text>
<text x="474.34" y="416.68" font-family='"Liberation Serif", serif' font-weight="bold" font-size="12.35" fill="#000" textLength="24.08" lengthAdjust="spacingAndGlyphs">1252</text>
<text x="493.24" y="406.87" font-family='"Liberation Serif", serif' font-weight="bold" font-size="13.04" fill="#000" textLength="24.06" lengthAdjust="spacingAndGlyphs">1158</text>
<text x="524.15" y="398.27" font-family='"Liberation Serif", serif' font-weight="bold" font-size="13.04" fill="#000" textLength="23.85" lengthAdjust="spacingAndGlyphs">1048</text>
<text x="582.49" y="434.28" font-family='"Liberation Serif", serif' font-weight="bold" font-size="12.00" fill="#000" textLength="18.02" lengthAdjust="spacingAndGlyphs">603</text>
<text x="147.35" y="604.57" font-family='"Liberation Serif", serif' font-weight="normal" font-size="13.10" fill="#3c3c3c" textLength="22.82" lengthAdjust="spacingAndGlyphs">3424</text>
<text x="223.78" y="535.47" font-family='"Liberation Serif", serif' font-weight="normal" font-size="13.10" fill="#3c3c3c" textLength="23.79" lengthAdjust="spacingAndGlyphs">2925</text>
<text x="394.43" y="522.10" font-family='"Liberation Serif", serif' font-weight="normal" font-size="13.29" fill="#3c3c3c" textLength="24.30" lengthAdjust="spacingAndGlyphs">1721</text>
<text x="416.29" y="551.17" font-family='"Liberation Serif", serif' font-weight="normal" font-size="13.10" fill="#3c3c3c" textLength="23.09" lengthAdjust="spacingAndGlyphs">1639</text>
<text x="433.47" y="512.27" font-family='"Liberation Serif", serif' font-weight="normal" font-size="13.10" fill="#3c3c3c" textLength="23.49" lengthAdjust="spacingAndGlyphs">1513</text>
<text x="448.05" y="525.57" font-family='"Liberation Serif", serif' font-weight="normal" font-size="13.10" fill="#3c3c3c" textLength="23.91" lengthAdjust="spacingAndGlyphs">1426</text>
<text x="467.89" y="537.17" font-family='"Liberation Serif", serif' font-weight="normal" font-size="13.10" fill="#3c3c3c" textLength="22.88" lengthAdjust="spacingAndGlyphs">1254</text>
<text x="484.86" y="557.17" font-family='"Liberation Serif", serif' font-weight="normal" font-size="13.14" fill="#3c3c3c" textLength="23.68" lengthAdjust="spacingAndGlyphs">1157</text>
<text x="503.66" y="587.77" font-family='"Liberation Serif", serif' font-weight="normal" font-size="13.04" fill="#3c3c3c" textLength="23.62" lengthAdjust="spacingAndGlyphs">1054</text>
<text x="573.17" y="505.37" font-family='"Liberation Sans", sans-serif' font-weight="normal" font-size="13.14" fill="#5a5a5a" textLength="17.26" lengthAdjust="spacingAndGlyphs">605</text>
</svg></body></html>
